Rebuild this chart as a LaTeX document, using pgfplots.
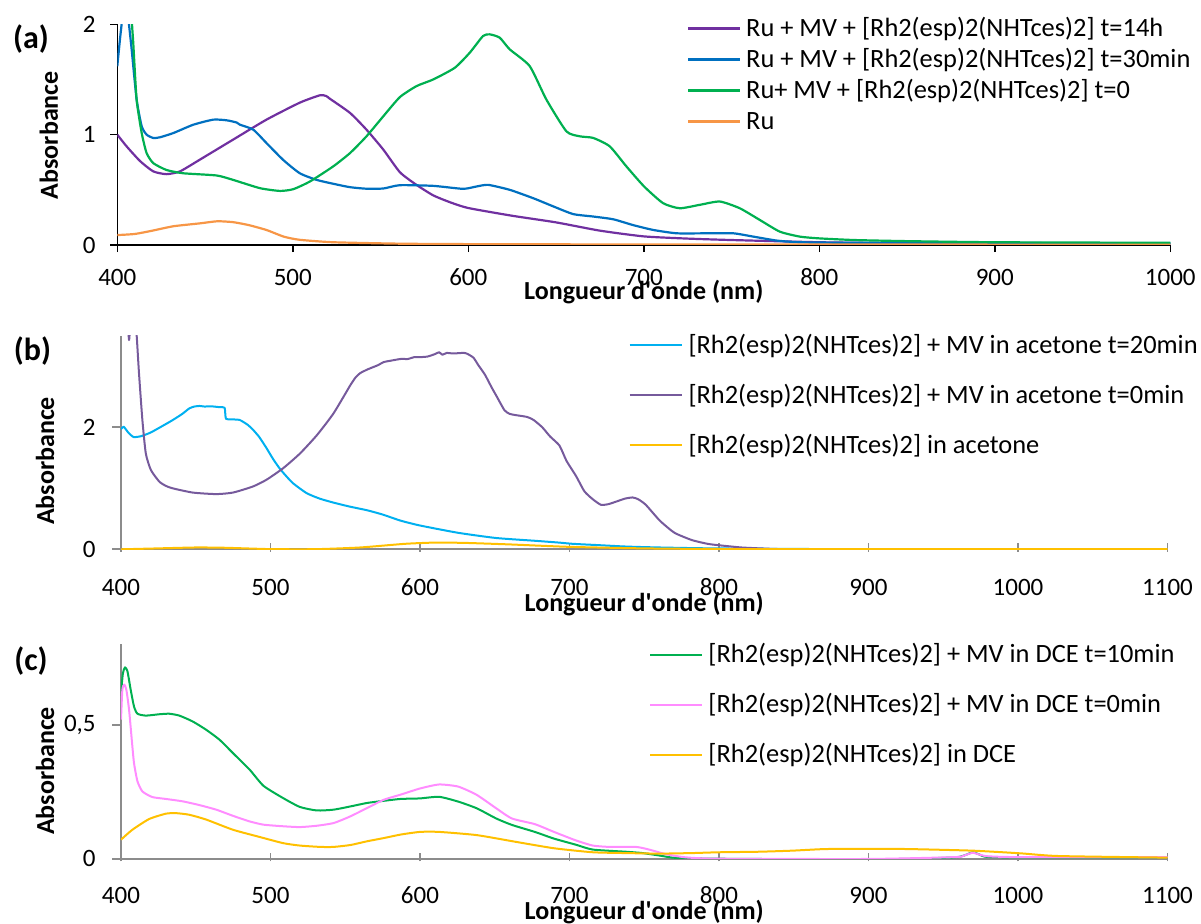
\documentclass[border=0pt]{standalone}
\usepackage{pgfplots}
\pgfplotsset{compat=1.18}
\usepackage{fontspec}
\setmainfont{Carlito}
\definecolor{aPurple}{HTML}{7030A0}
\definecolor{aBlue}{HTML}{0070C0}
\definecolor{aGreen}{HTML}{00B050}
\definecolor{aOrange}{HTML}{F79646}
\definecolor{bCyan}{HTML}{00B0F0}
\definecolor{bPurple}{HTML}{765A9C}
\definecolor{bYellow}{HTML}{FFC000}
\definecolor{cPink}{HTML}{FF8CFF}
\definecolor{axGray}{HTML}{8C8C8C}
\newcommand{\tickfont}{\fontsize{12.5}{15}\selectfont}
\newcommand{\titlefont}{\fontsize{13}{15}\selectfont\bfseries}
\pgfplotsset{
  common/.style={
    scale only axis, clip=true,
    axis x line*=bottom, axis y line*=left,
    axis line style={-},
    tick align=outside,
    /pgf/number format/assume math mode=true,
    /pgf/number format/set thousands separator={},
    ticklabel style={font=\tickfont},
    xticklabel style={anchor=base, inner sep=0pt},
    yticklabel style={anchor=east, inner sep=0pt},
    xlabel={Longueur d\textquotesingle onde (nm)},
    ylabel={Absorbance},
    legend cell align=left,
    legend image code/.code={\draw[#1] (0pt,0pt) -- (26pt,0pt);},
    every axis plot/.append style={line join=round, smooth, tension=0.35},
  },
}
\begin{document}
\begin{tikzpicture}
\path[use as bounding box] (0,0) rectangle (600.5pt,461.5pt);

% ---------------- (a)
\begin{axis}[common,
  at={(58.65pt,339pt)}, anchor=south west,
  width=526.5pt, height=110.35pt,
  xmin=400, xmax=1000, ymin=0, ymax=2,
  xtick={400,500,...,1000}, ytick={0,1,2},
  axis line style={black, line width=0.75pt},
  tick style={black, line width=0.75pt},
  major tick length=3.5pt,
  xticklabel style={yshift=-20pt+3.5pt},
  yticklabel style={xshift=-10.65pt+3.5pt},
  every axis x label/.style={at={(axis description cs:0.5,-0.249)}, anchor=base, font=\titlefont},
  every axis y label/.style={at={(axis description cs:-0.0649,0.498)}, rotate=90, anchor=center, font=\titlefont},
  legend style={draw=none, fill=none, inner sep=0pt, outer sep=0pt,
    at={(axis description cs:0.541,1.035)}, anchor=north west,
    font=\fontsize{13.2}{15}\selectfont, row sep=3.5pt,
    nodes={inner sep=0pt, text height=10pt, text depth=2pt},
    /tikz/every odd column/.append style={column sep=2.5pt}},
  every axis plot/.append style={line width=1.1pt},
]
\addplot[aPurple] coordinates {
(400,1.00) (405.3,0.894) (413,0.76) (420.5,0.667) (428,0.642) (435.7,0.667) (447,0.773)
(466,0.955) (485,1.136) (504,1.29) (515.5,1.357) (519,1.35) (520,1.34) (521,1.327)
(532.6,1.197) (542,1.045) (551.6,0.864) (561,0.66) (570,0.55) (580,0.45) (590,0.385)
(600,0.335) (625,0.265) (650,0.205) (675,0.13) (700,0.078) (725,0.058) (750,0.045)
(800,0.025) (850,0.015) (900,0.01) (1000,0.01)};
\addlegendentry{Ru + MV + [Rh2(esp)2(NHTces)2] t=14h}
\addplot[aBlue] coordinates {
(400,1.62) (401.5,1.86) (402.8,2.05) (404.5,2.3) (406.3,2.05) (408.2,1.77) (411,1.32)
(413.9,1.076) (416.7,1.0) (420.5,0.97) (424.3,0.976) (432,1.015) (443.3,1.09)
(454.7,1.136) (462.3,1.13) (468,1.11) (469.9,1.09) (477.5,1.045) (485,0.924)
(494.6,0.77) (504,0.65) (513.6,0.59) (523,0.555) (532.6,0.524) (542,0.51)
(551.6,0.512) (561,0.542) (580,0.536) (597,0.509) (604.6,0.53) (611.3,0.545)
(623.6,0.5) (637,0.424) (648.4,0.35) (659.8,0.28) (671.2,0.258) (682.6,0.233)
(694,0.18) (705.5,0.136) (718.8,0.106) (735.9,0.106) (751,0.106) (762.4,0.076)
(775.8,0.04) (789,0.025) (820,0.02) (900,0.018) (1000,0.015)};
\addlegendentry{Ru + MV + [Rh2(esp)2(NHTces)2] t=30min}
\addplot[aGreen] coordinates {
(405,3.0) (408.2,2.05) (409.1,1.83) (411,1.32) (413.9,1.015) (416.7,0.833)
(420.5,0.742) (428,0.68) (437.6,0.65) (456.6,0.63) (466,0.59) (481.3,0.515)
(492.7,0.49) (500.3,0.506) (509.8,0.576) (523,0.712) (532.6,0.833) (542,0.985)
(551.6,1.167) (561,1.34) (570.5,1.44) (580,1.5) (592.3,1.606) (600.8,1.742)
(608.4,1.894) (612.2,1.909) (617.9,1.879) (623.6,1.773) (635,1.621) (644.5,1.318)
(655.9,1.03) (663.5,0.985) (671.2,0.97) (680.6,0.894) (690.1,0.712) (700.2,0.53)
(711,0.379) (720.5,0.333) (731.9,0.364) (743.3,0.394) (754.7,0.333) (766.1,0.227)
(777.5,0.121) (788.9,0.076) (800,0.06) (820,0.045) (850,0.035) (900,0.025) (1000,0.02)};
\addlegendentry{Ru+ MV + [Rh2(esp)2(NHTces)2] t=0}
\addplot[aOrange] coordinates {
(400,0.09) (410,0.10) (420,0.13) (432,0.17) (447,0.196) (457,0.215) (466,0.207)
(475,0.18) (485,0.136) (495,0.075) (504,0.047) (523,0.025) (561,0.012) (600,0.008)
(700,0.005) (1000,0.003)};
\addlegendentry{Ru}
\end{axis}

% ---------------- (b)
\begin{axis}[common,
  at={(60.5pt,186.85pt)}, anchor=south west,
  width=523.25pt, height=106.75pt,
  xmin=400, xmax=1100, ymin=0, ymax=3.5,
  xtick={400,500,...,1100}, ytick={0,2},
  axis line style={axGray, line width=0.9pt},
  tick style={axGray, line width=0.9pt},
  major tick length=4.3pt,
  xtick style={yshift=3pt},
  xticklabel style={yshift=-22.85pt+4.3pt},
  yticklabel style={xshift=-12.5pt+4.3pt},
  every axis x label/.style={at={(axis description cs:0.5,-0.289)}, anchor=base, font=\titlefont},
  every axis y label/.style={at={(axis description cs:-0.0726,0.4136)}, rotate=90, anchor=center, font=\titlefont},
  legend style={draw=none, fill=none, inner sep=0pt, outer sep=0pt,
    at={(axis description cs:0.485,1.013)}, anchor=north west,
    font=\fontsize{13.2}{15}\selectfont, row sep=13pt,
    nodes={inner sep=0pt, text height=10pt, text depth=2pt},
    /tikz/every odd column/.append style={column sep=3pt}},
  every axis plot/.append style={line width=1pt},
]
\addplot[bCyan] coordinates {
(400,1.97) (401.8,2.01) (405,1.91) (408.5,1.84) (413.5,1.855) (419.5,1.91) (424,1.97)
(434,2.11) (441,2.22) (445.7,2.31) (449,2.34) (452.5,2.35) (456,2.34) (460,2.345)
(465.9,2.33) (469.3,2.32) (470.2,2.14) (474,2.13) (479.4,2.12) (484.8,2.04)
(488.3,1.96) (492.5,1.84) (497.3,1.66) (502,1.47) (506.3,1.32) (510.5,1.2)
(515.2,1.08) (524.2,0.92) (533,0.83) (542.2,0.765) (553,0.7) (564.6,0.64)
(575,0.57) (587,0.47) (600,0.39) (625.6,0.27) (651,0.185) (676.7,0.14)
(693,0.11) (702,0.09) (718,0.07) (738,0.045) (760,0.03) (793,0.016) (850,0.006)
(900,0.003) (1100,0.002)};
\addlegendentry{[Rh2(esp)2(NHTces)2] + MV in acetone t=20min}
\addplot[bPurple] coordinates {
(400,3.9) (403.5,3.9) (404.8,3.6) (405.4,3.43) (406,3.6) (407,3.9) (409,3.9)
(410.5,3.5) (412,2.9) (414.3,2.12) (416.6,1.57) (420,1.30) (425.6,1.11) (430,1.04)
(434.5,1.0) (448,0.93) (463.7,0.905) (474.9,0.93) (488.3,1.03) (497.3,1.14)
(508.5,1.33) (519.7,1.57) (531,1.87) (542.2,2.23) (553.4,2.69) (557,2.82)
(560.1,2.89) (565,2.95) (569,2.99) (572,3.02) (575.8,3.07) (580,3.09) (587,3.12)
(592,3.12) (596,3.15) (600,3.15) (605,3.16) (610,3.2) (612.8,3.23) (615,3.19)
(618,3.22) (622,3.21) (629.4,3.22) (632,3.2) (635.8,3.14) (639,3.02) (643.5,2.86)
(648,2.65) (651,2.52) (656.5,2.28) (660,2.22) (664,2.20) (671.6,2.17) (676,2.12)
(681.8,2.0) (687,1.85) (693.3,1.7) (698,1.45) (704.4,1.2) (710,0.95) (715.6,0.82)
(721,0.73) (726,0.74) (731,0.78) (737,0.83) (742.2,0.85) (746,0.82) (751,0.73)
(760,0.48) (766,0.35) (771,0.26) (782,0.15) (793,0.087) (804.4,0.055) (815,0.03)
(826.7,0.016) (837.8,0.006) (860,0.002) (1100,0.0)};
\addlegendentry{[Rh2(esp)2(NHTces)2] + MV in acetone t=0min}
\addplot[bYellow] coordinates {
(400,0.0) (420,0.012) (450,0.03) (470,0.025) (500,0.003) (530,0.002) (560,0.03)
(590,0.09) (610,0.11) (630,0.105) (660,0.08) (700,0.04) (750,0.015) (800,0.005)
(900,0.002) (1100,0.002)};
\addlegendentry{[Rh2(esp)2(NHTces)2] in acetone}
\end{axis}

% ---------------- (c)
\begin{axis}[common,
  at={(60.5pt,32.15pt)}, anchor=south west,
  width=523.25pt, height=107.2pt,
  xmin=400, xmax=1100, ymin=0, ymax=0.8,
  xtick={400,500,...,1100}, ytick={0,0.5},
  /pgf/number format/use comma, /pgf/number format/fixed,
  /pgf/number format/set thousands separator={},
  axis line style={axGray, line width=0.9pt},
  tick style={axGray, line width=0.9pt},
  major tick length=4.3pt,
  xtick style={yshift=3pt},
  xticklabel style={yshift=-22.15pt+4.3pt},
  yticklabel style={xshift=-12.5pt+4.3pt},
  every axis x label/.style={at={(axis description cs:0.5,-0.282)}, anchor=base, font=\titlefont},
  every axis y label/.style={at={(axis description cs:-0.0726,0.409)}, rotate=90, anchor=center, font=\titlefont},
  legend style={draw=none, fill=none, inner sep=0pt, outer sep=0pt,
    at={(axis description cs:0.505,1.0075)}, anchor=north west,
    font=\fontsize{13.2}{15}\selectfont, row sep=13pt,
    nodes={inner sep=0pt, text height=10pt, text depth=2pt},
    /tikz/every odd column/.append style={column sep=2.5pt}},
  every axis plot/.append style={line width=1pt},
]
\addplot[aGreen] coordinates {
(400,0.618) (401.3,0.693) (402.7,0.714) (404.3,0.70) (406.5,0.63) (408.7,0.568)
(411,0.541) (416.6,0.534) (425.6,0.539) (432.3,0.541) (439,0.534) (448,0.512)
(457,0.481) (465.9,0.444) (474.9,0.394) (486.1,0.332) (495.3,0.272) (508.5,0.226)
(519.7,0.193) (531,0.180) (542.2,0.183) (553.4,0.195) (564.6,0.208) (575.8,0.216)
(587,0.223) (600,0.225) (612.8,0.231) (625.6,0.213) (638,0.188) (651,0.15)
(661.5,0.126) (676.8,0.10) (689.6,0.075) (704.4,0.052) (715.6,0.034) (737.8,0.026)
(748.9,0.021) (760,0.012) (771,0.003) (800,0.0) (893,-0.003) (930,0.0) (958,0.005)
(964,0.012) (969.7,0.024) (974,0.016) (978.7,0.007) (1000,0.005) (1100,0.005)};
\addlegendentry{[Rh2(esp)2(NHTces)2] + MV in DCE t=10min}
\addplot[cPink] coordinates {
(400,0.519) (400.9,0.63) (402.2,0.65) (403.6,0.63) (405.4,0.556) (407.2,0.444)
(408.7,0.357) (411,0.289) (414.3,0.251) (421,0.23) (430,0.223) (441.3,0.214)
(452.5,0.20) (463.7,0.183) (474.9,0.16) (486.1,0.139) (495.3,0.127) (508.5,0.121)
(519.7,0.118) (531,0.123) (542.2,0.133) (553.4,0.158) (564.6,0.189) (575.8,0.22)
(587,0.239) (600,0.262) (612.8,0.277) (625.6,0.269) (638,0.238) (651,0.188)
(661.5,0.15) (676.8,0.129) (689.6,0.10) (704.4,0.068) (715.6,0.049) (726.7,0.044)
(744.4,0.044) (753.3,0.034) (764.4,0.017) (777.8,0.005) (800,0.0) (900,-0.001)
(958,0.006) (964,0.012) (969.7,0.022) (975,0.014) (980,0.009) (1000,0.006) (1100,0.006)};
\addlegendentry{[Rh2(esp)2(NHTces)2] + MV in DCE t=0min}
\addplot[bYellow] coordinates {
(400,0.071) (407.6,0.108) (418.8,0.148) (430,0.168) (436.8,0.170) (445.7,0.164)
(457,0.146) (474.9,0.108) (492.8,0.081) (508.5,0.058) (519.7,0.049) (533.2,0.044)
(542.2,0.044) (553.4,0.051) (564.6,0.065) (575.8,0.077) (587,0.09) (600,0.10)
(612.8,0.10) (638,0.088) (664,0.063) (689.6,0.039) (715.6,0.024) (737.8,0.021)
(760,0.019) (782,0.021) (800,0.024) (826.7,0.026) (848.9,0.03) (871,0.036)
(900,0.037) (926.7,0.036) (969.7,0.03) (1001.8,0.02) (1027,0.01) (1100,0.004)};
\addlegendentry{[Rh2(esp)2(NHTces)2] in DCE}
\end{axis}

\node[font=\fontsize{16}{18}\selectfont\bfseries] at (15.5pt,442pt) {(a)};
\node[font=\fontsize{16}{18}\selectfont\bfseries] at (16.25pt,286pt) {(b)};
\node[font=\fontsize{16}{18}\selectfont\bfseries] at (15.5pt,131pt) {(c)};
\end{tikzpicture}
\end{document}
